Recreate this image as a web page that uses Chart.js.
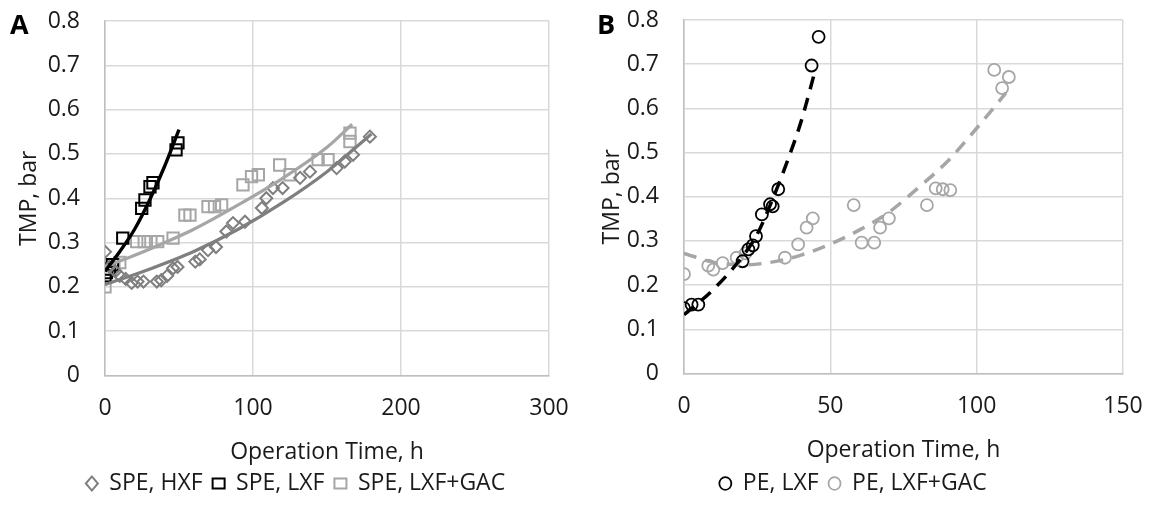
<!DOCTYPE html>
<html>
<head>
<meta charset="utf-8">
<title>TMP vs operation time</title>
<script src="https://cdn.jsdelivr.net/npm/chart.js@4.4.1/dist/chart.umd.min.js"></script>
<style>
  html, body { margin: 0; padding: 0; background: #fff; }
  #wrap  { position: relative; width: 1149px; height: 505px; overflow: hidden; }
  .panel { position: absolute; top: 0; width: 575px; height: 505px; }
  #panelA { left: 0; }
  #panelB { left: 574px; }
  .tag {
    position: absolute; top: 10px;
    font: bold 27px/27px 'Open Sans', sans-serif; color: #000;
  }
</style>
</head>
<body>
<div id="wrap">
  <div class="panel" id="panelA"><canvas id="chartA" width="575" height="505"></canvas></div>
  <div class="panel" id="panelB"><canvas id="chartB" width="575" height="505"></canvas></div>
  <div class="tag" style="left:10px">A</div>
  <div class="tag" style="left:597px">B</div>
</div>

<script>
'use strict';

// ── Panel A: SPE runs ─────────────────────────────────────────
const hxfTime = [0, 3, 7, 10, 14, 18, 22, 26, 35, 38, 42, 46, 49, 61, 64, 69.6, 75, 82, 86.5, 94.6, 106, 109, 113.5, 120, 131.8, 138.5, 156.5, 162, 167.6, 179];
const hxfTmp  = [0.279, 0.245, 0.235, 0.225, 0.218, 0.209, 0.212, 0.212, 0.212, 0.215, 0.225, 0.242, 0.245, 0.257, 0.262, 0.283, 0.29, 0.325, 0.344, 0.347, 0.378, 0.4, 0.423, 0.423, 0.446, 0.46, 0.468, 0.483, 0.498, 0.539];

const lxfTime = [0, 1, 3, 5, 12, 24.8, 27, 30.4, 32.4, 48, 49.3];
const lxfTmp  = [0.225, 0.232, 0.24, 0.25, 0.31, 0.377, 0.396, 0.426, 0.435, 0.509, 0.525];

const gacTime = [0, 2, 6, 10, 21.4, 26.5, 31, 35.6, 46, 54, 57.4, 69.6, 74, 78.8, 93.2, 99, 103.6, 118, 125, 144, 150.7, 165.5, 165.5];
const gacTmp  = [0.2, 0.24, 0.25, 0.255, 0.302, 0.302, 0.302, 0.302, 0.31, 0.362, 0.362, 0.381, 0.381, 0.385, 0.43, 0.449, 0.453, 0.475, 0.453, 0.487, 0.487, 0.528, 0.547];

// trendlines
const hxfFitTime = [0, 30, 60, 90, 120, 150, 180];
const hxfFitTmp  = [0.205, 0.24, 0.28, 0.33, 0.39, 0.46, 0.545];
const lxfFitTime = [0, 10, 20, 30, 40, 50];
const lxfFitTmp  = [0.235, 0.28, 0.33, 0.395, 0.47, 0.555];
const gacFitTime = [0, 30, 60, 90, 120, 150, 167];
const gacFitTmp  = [0.245, 0.285, 0.33, 0.385, 0.445, 0.515, 0.567];

// ── Panel B: PE runs ──────────────────────────────────────────
const peLxfTime = [0, 2.6, 4.9, 20, 22, 23.5, 24.6, 26.6, 29.4, 30.3, 32.2, 43.6, 46];
const peLxfTmp  = [0.148, 0.156, 0.156, 0.254, 0.281, 0.29, 0.311, 0.36, 0.383, 0.378, 0.417, 0.697, 0.762];

const peGacTime = [0, 8.3, 10, 13.2, 18, 21, 34.5, 39, 41.9, 44, 58, 60.7, 65, 67, 70, 83, 86, 88.4, 91, 106, 108.7, 111];
const peGacTmp  = [0.225, 0.244, 0.235, 0.25, 0.262, 0.272, 0.262, 0.292, 0.33, 0.351, 0.381, 0.296, 0.296, 0.33, 0.351, 0.381, 0.419, 0.417, 0.415, 0.687, 0.646, 0.671];

const peLxfFitTime = [0, 10, 20, 25, 30, 35, 40, 45];
const peLxfFitTmp  = [0.133, 0.19, 0.265, 0.315, 0.39, 0.475, 0.57, 0.69];
const peGacFitTime = [0, 10, 20, 30, 40, 50, 60, 70, 80, 90, 100, 110];
const peGacFitTmp  = [0.272, 0.252, 0.246, 0.252, 0.268, 0.293, 0.325, 0.365, 0.42, 0.48, 0.555, 0.635];

// ── Shared look ───────────────────────────────────────────────
const FONT     = "'Open Sans', 'DejaVu Sans', sans-serif";
const TXT      = '#1a1a1a';
const GRID     = '#d9d9d9';
const BLACK    = '#000000';
const DARKGRAY = '#7f7f7f';
const LIGHT    = '#a6a6a6';
const NONE     = 'rgba(0,0,0,0)';

function pts(xs, ys) {
  return xs.map((x, i) => ({ x, y: ys[i] }));
}

function markers(label, xs, ys, color, style, radius, width) {
  return {
    label,
    data: pts(xs, ys),
    showLine: false,
    pointStyle: style,
    pointRadius: radius,
    pointHoverRadius: radius,
    pointBorderWidth: width,
    borderWidth: width,
    borderColor: color,
    pointBorderColor: color,
    backgroundColor: NONE,
    pointBackgroundColor: NONE,
  };
}

function trend(xs, ys, color, width, dash) {
  return {
    label: '',
    data: pts(xs, ys),
    showLine: true,
    pointRadius: 0,
    borderColor: color,
    borderWidth: width,
    borderDash: dash || [],
    borderCapStyle: 'butt',
    cubicInterpolationMode: 'monotone',
    fill: false,
  };
}

// builds one panel; geometry numbers place the plot area like the original
// (gaps to the tick labels come from invisible tick marks, so they don't
//  inflate the layout padding the way ticks.padding does)
function makePanel(canvasId, datasets, xMax, xStep, g) {
  return new Chart(document.getElementById(canvasId), {
    type: 'scatter',
    data: { datasets },
    options: {
      responsive: false,
      animation: false,
      events: [],
      layout: { padding: { left: g.padL, right: 26, top: g.top, bottom: 0 } },
      plugins: {
        tooltip: { enabled: false },
        legend: {
          position: 'bottom',
          labels: {
            filter: item => item.text !== '',
            usePointStyle: true,
            boxHeight: g.box,
            pointStyleWidth: 12,
            padding: 10,
            color: TXT,
            font: { family: FONT, size: 23 },
          },
        },
      },
      scales: {
        x: {
          type: 'linear',
          min: 0,
          max: xMax,
          ticks: { stepSize: xStep, color: TXT, padding: 0, font: { family: FONT, size: 23 } },
          grid:  { color: GRID, lineWidth: 1.5, drawTicks: true, tickLength: 19, tickColor: NONE },
          border: { color: '#bfbfbf', width: 1.5 },
          title: {
            display: true,
            text: 'Operation Time, h',
            color: TXT,
            font: { family: FONT, size: 23 },
            padding: { top: 0, bottom: g.titleB },
          },
          afterFit: s => { s.height = g.xH; },
        },
        y: {
          min: 0,
          max: 0.8,
          ticks: {
            stepSize: 0.1,
            color: TXT,
            padding: 0,
            font: { family: FONT, size: 23 },
            callback: v => (v === 0 ? '0' : v.toFixed(1)),
          },
          grid:  { color: GRID, lineWidth: 1.5, drawTicks: true, tickLength: 25, tickColor: NONE },
          border: { color: '#bfbfbf', width: 1.5 },
          title: {
            display: true,
            text: 'TMP, bar',
            color: TXT,
            font: { family: FONT, size: 23 },
            padding: { top: g.titleL, bottom: 0 },
          },
          afterFit: s => { s.width = g.left - g.padL; },
        },
      },
    },
  });
}

// ── Panel A ───────────────────────────────────────────────────
makePanel('chartA', [
  trend(lxfFitTime, lxfFitTmp, BLACK, 3.4),
  trend(gacFitTime, gacFitTmp, LIGHT, 3.2),
  trend(hxfFitTime, hxfFitTmp, DARKGRAY, 3.2),
  markers('SPE, HXF', hxfTime, hxfTmp, DARKGRAY, 'rectRot', 6, 2),
  markers('SPE, LXF', lxfTime, lxfTmp, BLACK, 'rect', 8, 2),
  markers('SPE, LXF+GAC', gacTime, gacTmp, LIGHT, 'rect', 8, 2),
], 300, 100, { left: 105, padL: 42, top: 21, xH: 86.5, titleB: -4, titleL: -26.8, box: 10 });

// ── Panel B ───────────────────────────────────────────────────
makePanel('chartB', [
  trend(peLxfFitTime, peLxfFitTmp, BLACK, 3.5, [13, 9]),
  trend(peGacFitTime, peGacFitTmp, LIGHT, 3.5, [13, 9]),
  markers('PE, LXF', peLxfTime, peLxfTmp, BLACK, 'circle', 6, 1.8),
  markers('PE, LXF+GAC', peGacTime, peGacTmp, LIGHT, 'circle', 6, 1.8),
], 150, 50, { left: 110, padL: 9, top: 20, xH: 88.5, titleB: -2, titleL: 15.2, box: 9 });
</script>
</body>
</html>
